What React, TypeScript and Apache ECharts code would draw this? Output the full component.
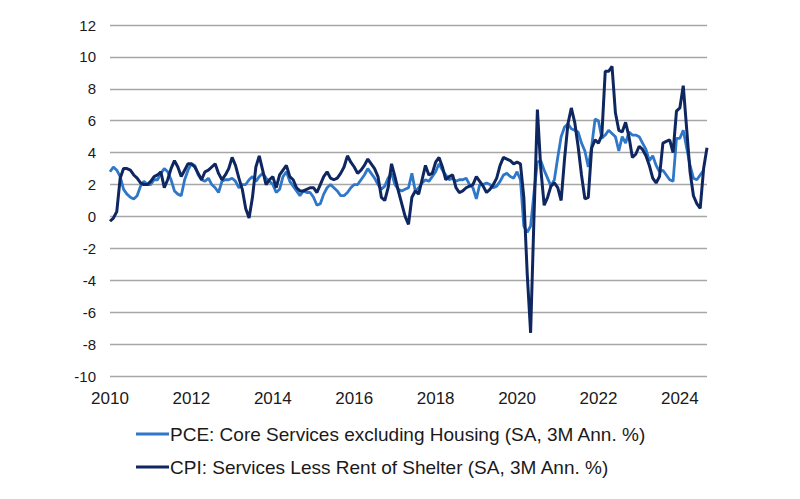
import React, { useEffect, useRef } from "react";
import * as echarts from "echarts";

const startYear = 2010;
const monthCount = 177; // Jan 2010 - Sep 2024
const months: string[] = [];
for (let i = 0; i < monthCount; i++) {
  const y = startYear + Math.floor(i / 12);
  const m = (i % 12) + 1;
  months.push(`${y}-${m < 10 ? "0" + m : m}`);
}

const seriesNames = [
  "PCE: Core Services excluding Housing (SA, 3M Ann. %)",
  "CPI: Services Less Rent of Shelter (SA, 3M Ann. %)",
];

const yTicks = { min: -10, max: 12, interval: 2 };

// PCE core services ex housing, monthly from Jan 2010
const pce: (number | null)[] = [
  // 2010
  2.8, 3.1, 2.9, 2.5, 1.7, 1.4, 1.2, 1.1, 1.3, 1.9, 2.2, 2.0,
  // 2011
  2.0, 2.3, 2.3, 2.7, 3.0, 2.8, 2.3, 1.6, 1.4, 1.3, 2.3, 2.9,
  // 2012
  3.3, 3.2, 2.6, 2.3, 2.2, 2.4, 2.0, 1.8, 1.5, 2.2, 2.3, 2.3,
  // 2013
  2.4, 2.2, 1.8, 2.0, 2.0, 2.3, 2.5, 2.2, 2.5, 2.7, 2.4, 2.2,
  // 2014
  2.0, 1.5, 1.7, 2.5, 2.8, 2.2, 1.9, 1.6, 1.3, 1.6, 1.5, 1.5,
  // 2015
  1.2, 0.7, 0.8, 1.4, 1.8, 2.0, 1.8, 1.6, 1.3, 1.3, 1.5, 1.8,
  // 2016
  2.0, 2.0, 2.3, 2.6, 3.0, 2.7, 2.4, 2.0, 1.7, 1.9, 2.4, 2.7,
  // 2017
  2.0, 1.7, 1.6, 1.7, 1.8, 2.7, 1.6, 1.8, 2.1, 2.3, 2.2, 2.5,
  // 2018
  2.8, 3.3, 2.9, 2.6, 2.3, 2.4, 2.2, 2.3, 2.3, 2.4, 2.0, 1.8,
  // 2019
  1.1, 2.0, 2.0, 2.1, 2.0, 1.8, 1.9, 2.2, 2.6, 2.7, 2.5, 2.4,
  // 2020
  2.8, 2.3, -0.6, -1.0, -0.6, 1.5, 3.4, 3.5, 2.9, 2.4, 1.9, 2.3,
  // 2021
  3.7, 5.0, 5.6, 5.8, 5.5, 5.4, 5.3, 4.6, 4.1, 3.1, 4.4, 6.1,
  // 2022
  6.0, 4.9, 5.1, 5.4, 5.2, 5.0, 4.1, 5.0, 4.6, 5.3, 5.1, 5.1,
  // 2023
  5.0, 4.6, 4.2, 3.5, 3.8, 3.2, 2.8, 2.9, 2.6, 2.3, 2.2, 4.9,
  // 2024
  4.9, 5.4, 4.3, 3.2, 2.4, 2.3, 2.6, 2.9, null,
];

// CPI services less rent of shelter, monthly from Jan 2010
const cpi: number[] = [
  // 2010
  -0.3, -0.1, 0.3, 2.4, 3.0, 3.0, 2.9, 2.6, 2.4, 2.1, 2.0, 2.0,
  // 2011
  2.2, 2.5, 2.6, 2.8, 1.8, 2.3, 3.0, 3.5, 3.1, 2.5, 2.9, 3.3,
  // 2012
  3.3, 3.1, 2.7, 2.3, 2.8, 2.9, 3.1, 3.3, 2.7, 2.3, 2.6, 3.0,
  // 2013
  3.7, 3.2, 2.4, 1.7, 0.5, -0.1, 1.2, 3.1, 3.8, 2.9, 2.0, 2.3,
  // 2014
  2.5, 1.8, 2.6, 2.9, 3.2, 2.5, 2.3, 1.8, 1.6, 1.6, 1.7, 1.8,
  // 2015
  1.8, 1.5, 2.0, 2.5, 2.8, 2.4, 2.3, 2.4, 2.7, 3.1, 3.8, 3.4,
  // 2016
  3.1, 2.7, 2.9, 3.2, 3.6, 3.3, 3.0, 2.5, 1.2, 1.0, 1.8, 3.3,
  // 2017
  2.5, 1.6, 0.8, 0.0, -0.5, 1.2, 1.6, 1.4, 2.3, 3.2, 2.6, 2.7,
  // 2018
  3.4, 3.7, 3.1, 2.3, 2.5, 2.6, 1.8, 1.5, 1.6, 1.8, 1.9, 2.0,
  // 2019
  2.5, 2.2, 1.9, 1.5, 1.7, 2.0, 2.4, 3.2, 3.7, 3.6, 3.5, 3.3,
  // 2020
  3.4, 3.3, 1.2, -3.6, -7.3, 0.0, 6.7, 3.0, 0.7, 1.2, 1.9, 2.1,
  // 2021
  1.8, 1.0, 3.6, 5.8, 6.8, 5.9, 4.4, 2.6, 1.1, 1.2, 4.3, 4.8,
  // 2022
  4.6, 5.1, 9.1, 9.1, 9.4, 6.5, 5.4, 5.3, 5.9, 5.0, 3.7, 3.9,
  // 2023
  4.4, 4.2, 3.8, 3.2, 2.4, 2.1, 2.5, 4.6, 4.7, 4.8, 4.0, 6.6,
  // 2024
  6.8, 8.2, 5.5, 2.8, 1.3, 0.8, 0.5, 3.0, 4.3,
];

const colors = ["#2f77c8", "#0f2760"];

export default function App() {
  const ref = useRef<HTMLDivElement>(null);
  useEffect(() => {
    if (!ref.current) return;
    const chart = echarts.init(ref.current, undefined, { renderer: "svg" });
    chart.setOption({
      animation: false,
      backgroundColor: "#ffffff",
      grid: { left: 110, right: 93, top: 25, bottom: 123, containLabel: false },
      xAxis: {
        type: "category",
        data: months,
        boundaryGap: false,
        axisLine: { show: false },
        axisTick: { show: false },
        splitLine: { show: false },
        axisLabel: {
          interval: (idx: number) => idx % 24 === 0,
          formatter: (v: string) => v.slice(0, 4),
          color: "#1a1a1a",
          fontFamily: "Liberation Sans",
          fontSize: 17,
          margin: 14,
        },
      },
      yAxis: {
        type: "value",
        min: yTicks.min,
        max: yTicks.max,
        interval: yTicks.interval,
        axisLine: { show: false },
        axisTick: { show: false },
        splitLine: { lineStyle: { color: "#a6a6a6", width: 1.3 } },
        axisLabel: {
          color: "#1a1a1a",
          fontFamily: "Liberation Sans",
          fontSize: 15,
          margin: 14,
        },
      },
      legend: {
        orient: "vertical",
        left: 131,
        top: 418,
        icon: "rect",
        itemWidth: 33,
        itemHeight: 3,
        itemGap: 11,
        textStyle: {
          color: "#1a1a1a",
          fontFamily: "Liberation Sans",
          fontSize: 19,
          lineHeight: 22,
          padding: [0, 0, 0, -4],
        },
        data: seriesNames,
      },
      series: [
        {
          name: seriesNames[0],
          type: "line",
          data: pce,
          symbol: "none",
          lineStyle: { color: colors[0], width: 2.8 },
          itemStyle: { color: colors[0] },
        },
        {
          name: seriesNames[1],
          type: "line",
          data: cpi,
          symbol: "none",
          lineStyle: { color: colors[1], width: 3 },
          itemStyle: { color: colors[1] },
        },
      ],
    });
    return () => chart.dispose();
  }, []);
  return <div ref={ref} style={{ width: 800, height: 499, margin: -8 }} />;
}
